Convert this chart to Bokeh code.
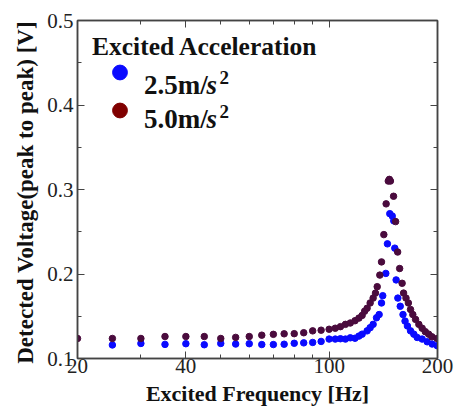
from bokeh.plotting import figure
from bokeh.models import (Range1d, FixedTicker, LinearAxis, LogAxis, Legend, LegendItem, Label)
from bokeh.embed import file_html
from bokeh.resources import INLINE

# ---- data ----
freq_25 = [25, 30, 35, 40, 45, 50, 55, 60, 65, 70, 75, 80, 85, 90, 95, 100,
           104, 107.5, 111, 114.5, 118, 121, 123.5, 127.5, 130, 132.5, 135.4,
           137.7, 139.8, 140.9, 143.7, 145.2, 147.4, 149.7, 151.2, 152.2, 153.5,
           155.2, 157.6, 160.4, 162.5, 165, 168.3, 171.9, 175.6, 181.3, 187.2,
           193.3, 199.6]
volt_25 = [0.116, 0.1178, 0.1167, 0.1175, 0.1163, 0.1178, 0.1171, 0.1175, 0.1165,
           0.1165, 0.1169, 0.118, 0.1185, 0.119, 0.1202, 0.123, 0.123, 0.1234,
           0.123, 0.1245, 0.124, 0.1265, 0.1288, 0.1327, 0.1365, 0.1404, 0.1482,
           0.152, 0.1657, 0.1743, 0.2007, 0.2357, 0.2714, 0.2687, 0.2629, 0.2306,
           0.193, 0.1715, 0.1618, 0.152, 0.1443, 0.1385, 0.1327, 0.1288, 0.1249,
           0.123, 0.1198, 0.1171, 0.1152]

freq_50 = [20, 25, 30, 35, 40, 45, 50, 55, 60, 65, 70, 75, 80, 85, 90, 95, 100,
           104, 107.5, 111, 114.5, 118, 121, 123.5, 125.5, 127.5, 130, 132.5,
           134.5, 136, 138.3, 139.8, 141.9, 144, 146, 147, 148, 151, 153, 155,
           157, 159.5, 161, 163.5, 166, 168.3, 170.8, 173.8, 177.5, 181.3, 185,
           189, 193, 199.6]
volt_50 = [0.1237, 0.1237, 0.1237, 0.126, 0.126, 0.126, 0.1237, 0.125, 0.126,
           0.1276, 0.1286, 0.1292, 0.1294, 0.1305, 0.1327, 0.1335, 0.1346, 0.1358,
           0.1377, 0.1404, 0.142, 0.1447, 0.1478, 0.151, 0.156, 0.1595, 0.1657,
           0.1715, 0.1774, 0.185, 0.1987, 0.2143, 0.2466, 0.283, 0.310, 0.312,
           0.310, 0.292, 0.262, 0.226, 0.2065, 0.189, 0.1774, 0.1715, 0.1657,
           0.158, 0.152, 0.1463, 0.1404, 0.1358, 0.1318, 0.1288, 0.1257, 0.1237]

x_ticks = [20, 40, 100, 200]
x_minor = [30, 50, 60, 70, 80, 90]
y_ticks = [0.1, 0.2, 0.3, 0.4, 0.5]
y_minor = [0.15, 0.25, 0.35, 0.45]
series_labels = ["2.5m/", "5.0m/"]

BLUE = "#0a0aff"
PLUM = "#4a0b3d"
MAROON = "#800000"
AX = "#444444"
FONT = "Liberation Serif"
NAN = float("nan")

p = figure(width=455, height=408, x_axis_type="log",
           x_range=Range1d(20, 200), y_range=Range1d(0.1, 0.5),
           output_backend="svg", toolbar_location=None,
           min_border_left=77, min_border_right=18, min_border_top=20,
           min_border_bottom=45)
p.grid.visible = False
p.outline_line_color = AX
p.outline_line_width = 1.5

r_b = p.scatter(freq_25, volt_25, size=6.5, color=BLUE)
r_r = p.scatter(freq_50, volt_50, size=6.5, color=PLUM)

def style_axis(ax, labels=True):
    ax.axis_line_color = AX
    ax.axis_line_width = 1.5
    ax.major_tick_line_color = AX
    ax.minor_tick_line_color = AX
    ax.major_tick_in = 7
    ax.major_tick_out = 0
    ax.minor_tick_in = 4
    ax.minor_tick_out = 0
    ax.major_label_text_font = FONT
    ax.major_label_text_font_size = "21px"
    ax.major_label_text_color = "#222222" if labels else None

xa = p.xaxis[0]
xa.ticker = FixedTicker(ticks=x_ticks, minor_ticks=x_minor)
xa.major_label_overrides = {t: str(t) for t in x_ticks}
style_axis(xa)
xa.major_label_standoff = 0
xa.axis_label = "Excited Frequency [Hz]"
xa.axis_label_text_font = FONT
xa.axis_label_text_font_style = "bold"
xa.axis_label_text_font_size = "22px"
xa.axis_label_standoff = 5
xa.axis_label_text_color = "#111111"

ya = p.yaxis[0]
ya.ticker = FixedTicker(ticks=y_ticks, minor_ticks=y_minor)
style_axis(ya)
ya.major_label_standoff = 4
ya.axis_label = "Detected Voltage(peak to peak)  [V]"
ya.axis_label_text_font = FONT
ya.axis_label_text_font_style = "bold"
ya.axis_label_text_font_size = "23px"
ya.axis_label_standoff = 6
ya.axis_label_text_color = "#111111"

top = LogAxis(ticker=FixedTicker(ticks=x_ticks, minor_ticks=x_minor))
style_axis(top, labels=False)
top.major_label_standoff = 0
p.add_layout(top, "above")
right = LinearAxis(ticker=FixedTicker(ticks=y_ticks, minor_ticks=y_minor))
style_axis(right, labels=False)
right.major_label_standoff = 0
p.add_layout(right, "right")

# legend swatches (single NaN point, only used for the legend)
leg_b = p.scatter([NAN], [NAN], size=15, color=BLUE)
leg_r = p.scatter([NAN], [NAN], size=15, color=MAROON)
legend = Legend(items=[LegendItem(label=" ", renderers=[leg_b]),
                       LegendItem(label=" ", renderers=[leg_r])],
                location=(24, 229), padding=0, margin=0, spacing=0,
                glyph_width=37, glyph_height=38, label_standoff=0,
                label_text_color=None,
                border_line_color=None, background_fill_alpha=0)
p.add_layout(legend, "center")

FRAME_BOTTOM = 363.0  # page y of the frame bottom, used to place legend texts

def ypos(page_baseline, shift):
    return FRAME_BOTTOM - page_baseline + shift

# legend texts
p.add_layout(Label(x=14.5, y=ypos(54.3, 3.0), x_units="screen", y_units="screen",
                   text="Excited Acceleration", text_font=FONT,
                   text_font_style="bold", text_font_size="25.5px",
                   text_baseline="alphabetic", text_color="#111111"))
for i, lab in enumerate(series_labels):
    base = 89.0 + 34.3 * i
    p.add_layout(Label(x=66.5, y=ypos(base, 0), x_units="screen", y_units="screen",
                       text=lab, text_font=FONT, text_font_style="bold",
                       text_font_size="27px", text_baseline="alphabetic",
                       text_color="#111111"))
    p.add_layout(Label(x=129, y=ypos(base, 0), x_units="screen", y_units="screen",
                       text="s", text_font=FONT, text_font_style="bold italic",
                       text_font_size="27px", text_baseline="alphabetic",
                       text_color="#111111"))
    p.add_layout(Label(x=142, y=ypos(base - 7.5, -0.5), x_units="screen", y_units="screen",
                       text="2", text_font=FONT, text_font_style="bold",
                       text_font_size="19px", text_baseline="alphabetic",
                       text_color="#111111"))

html = file_html(p, INLINE)
html = html.replace("<head>", "<head><style>html,body{overflow:hidden}</style>", 1)
open("out.html", "w").write(html)
